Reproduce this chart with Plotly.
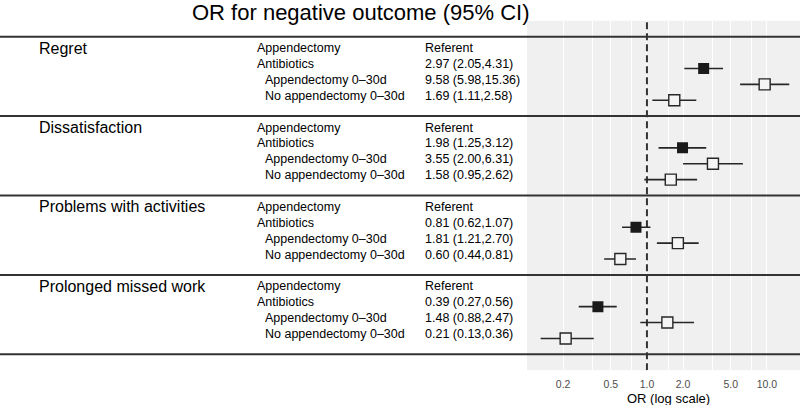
import plotly.graph_objects as go

# ---------------- data ----------------
groups = ["Regret", "Dissatisfaction", "Problems with activities", "Prolonged missed work"]
ref_label = "Appendectomy"
ref_text = "Referent"
sub_labels = ["Antibiotics", "Appendectomy 0\u201330d", "No appendectomy 0\u201330d"]
sub_indent = [False, True, True]

or_est = [
    [2.97, 9.58, 1.69],
    [1.98, 3.55, 1.58],
    [0.81, 1.81, 0.60],
    [0.39, 1.48, 0.21],
]
ci_lo = [
    [2.05, 5.98, 1.11],
    [1.25, 2.00, 0.95],
    [0.62, 1.21, 0.44],
    [0.27, 0.88, 0.13],
]
ci_hi = [
    [4.31, 15.36, 2.58],
    [3.12, 6.31, 2.62],
    [1.07, 2.70, 0.81],
    [0.56, 2.47, 0.36],
]

tick_vals = [0.2, 0.5, 1.0, 2.0, 5.0, 10.0]
tick_text = ["0.2", "0.5", "1.0", "2.0", "5.0", "10.0"]
minor_vals = [0.35, 0.75, 1.5, 3.5, 7.5]

title_text = "OR for negative outcome (95% CI)"
xtitle_text = "OR (log scale)"

# ---------------- layout helpers ----------------
W, H = 800, 405
FONT = "Liberation Sans, Arial, Helvetica, sans-serif"
DARK = "#262626"
PANEL = "#f0f0f0"
GROUP_SIZE = 5  # slots per group (line + 4 rows)
SUB_FS = 12.5

def px_x(p):
    return p / W

def px_y(p):
    return 1 - p / H

fig = go.Figure()

annotations = []
shapes = []

TXT_OFF = 0.28

fill_x, fill_y, fill_lo, fill_hi = [], [], [], []
open_x, open_y, open_lo, open_hi = [], [], [], []

for g, name in enumerate(groups):
    top = -GROUP_SIZE * g
    annotations.append(dict(x=px_x(37), y=top - 1 + TXT_OFF, xref="paper", yref="y",
                            text=name, showarrow=False, xanchor="left", yanchor="middle",
                            font=dict(size=16, color="black", family=FONT)))
    annotations.append(dict(x=px_x(255), y=top - 1 + TXT_OFF, xref="paper", yref="y",
                            text=ref_label, showarrow=False, xanchor="left", yanchor="middle",
                            font=dict(size=SUB_FS, color="black", family=FONT)))
    annotations.append(dict(x=px_x(423), y=top - 1 + TXT_OFF, xref="paper", yref="y",
                            text=ref_text, showarrow=False, xanchor="left", yanchor="middle",
                            font=dict(size=SUB_FS, color="black", family=FONT)))
    for k, lab in enumerate(sub_labels):
        yrow = top - 2 - k
        est, lo, hi = or_est[g][k], ci_lo[g][k], ci_hi[g][k]
        annotations.append(dict(x=px_x(263 if sub_indent[k] else 255), y=yrow + TXT_OFF,
                                xref="paper", yref="y", text=lab, showarrow=False,
                                xanchor="left", yanchor="middle",
                                font=dict(size=SUB_FS, color="black", family=FONT)))
        annotations.append(dict(x=px_x(423), y=yrow + TXT_OFF, xref="paper", yref="y",
                                text=f"{est:.2f} ({lo:.2f},{hi:.2f})", showarrow=False,
                                xanchor="left", yanchor="middle",
                                font=dict(size=SUB_FS, color="black", family=FONT)))
        if k == 0:
            fill_x.append(est); fill_y.append(yrow)
            fill_lo.append(est - lo); fill_hi.append(hi - est)
        else:
            open_x.append(est); open_y.append(yrow)
            open_lo.append(est - lo); open_hi.append(hi - est)

n_lines = len(groups) + 1
for i in range(n_lines):
    shapes.append(dict(type="line", xref="paper", yref="y", x0=0, x1=1,
                       y0=-GROUP_SIZE * i, y1=-GROUP_SIZE * i,
                       line=dict(color="#333333", width=2), layer="above"))

y_min = -GROUP_SIZE * len(groups) - 1
y_max = 1

fig.add_trace(go.Scatter(x=[1, 1], y=[y_min, y_max], mode="lines",
                         line=dict(color="#333333", width=2, dash="7px,4px"),
                         hoverinfo="skip", showlegend=False))

fig.add_trace(go.Scatter(
    x=fill_x, y=fill_y, mode="markers", showlegend=False,
    marker=dict(symbol="square", size=11, color="#1a1a1a", line=dict(width=0)),
    error_x=dict(type="data", symmetric=False, array=fill_hi, arrayminus=fill_lo,
                 width=0, thickness=1.6, color=DARK)))

fig.add_trace(go.Scatter(
    x=open_x, y=open_y, mode="markers", showlegend=False,
    marker=dict(symbol="square", size=11, color="#f4f4f4", line=dict(width=1.4, color=DARK)),
    error_x=dict(type="data", symmetric=False, array=open_hi, arrayminus=open_lo,
                 width=0, thickness=1.6, color=DARK)))

annotations.append(dict(x=px_x(360), y=px_y(12.5), xref="paper", yref="paper",
                        text=title_text, showarrow=False, xanchor="center", yanchor="middle",
                        font=dict(size=22, color="black", family=FONT)))
annotations.append(dict(x=px_x(668), y=px_y(398), xref="paper", yref="paper",
                        text=xtitle_text, showarrow=False, xanchor="center", yanchor="middle",
                        font=dict(size=13, color="black", family=FONT)))

fig.update_layout(
    width=W, height=H,
    margin=dict(l=0, r=0, t=0, b=0, pad=0),
    paper_bgcolor="white",
    plot_bgcolor=PANEL,
    font=dict(family=FONT),
    annotations=annotations,
    shapes=shapes,
    xaxis=dict(type="log", range=[-1.0, 1.276], domain=[px_x(527), 1],
               tickvals=tick_vals, ticktext=tick_text,
               tickfont=dict(size=10.5, color="#4d4d4d", family=FONT),
               ticks="outside", ticklen=4, tickcolor="rgba(0,0,0,0)",
               showgrid=True, gridcolor="white", gridwidth=1.3,
               minor=dict(tickvals=minor_vals, showgrid=True, gridcolor="white", gridwidth=0.7),
               zeroline=False, showline=False, fixedrange=True),
    yaxis=dict(range=[y_min, y_max], domain=[px_y(370.2), px_y(20.8)],
               showgrid=False, zeroline=False, showticklabels=False, ticks="",
               showline=False, fixedrange=True),
)

fig.write_html("out.html", config={"displayModeBar": False},
               post_script="document.body.style.margin='0px';")
